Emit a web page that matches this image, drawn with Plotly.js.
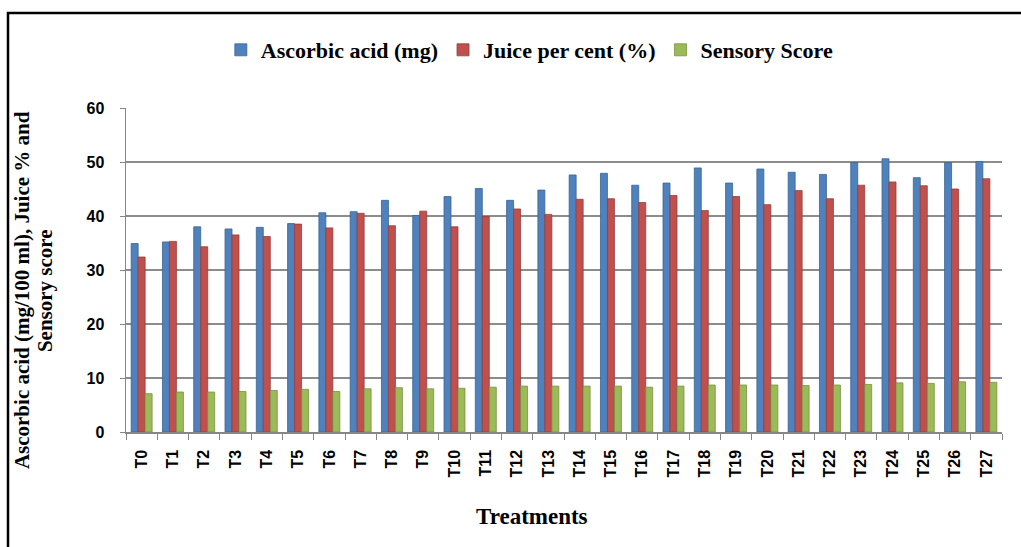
<!DOCTYPE html>
<html>
<head>
<meta charset="utf-8">
<script src="https://cdn.plot.ly/plotly-3.0.1.min.js"></script>
<style>html,body{margin:0;padding:0;background:#fff;}#chart{width:1021px;height:547px;}</style>
</head>
<body>
<div id="chart"></div>
<script>
var treatments = ["T0","T1","T2","T3","T4","T5","T6","T7","T8","T9","T10","T11","T12","T13","T14","T15","T16","T17","T18","T19","T20","T21","T22","T23","T24","T25","T26","T27"];
var ascorbicAcid = [34.9,35.2,38.0,37.6,37.9,38.6,40.6,40.8,42.9,40.1,43.6,45.1,42.9,44.8,47.6,47.9,45.7,46.1,48.9,46.1,48.7,48.1,47.7,49.9,50.6,47.1,49.9,50.1];
var juicePercent = [32.4,35.3,34.3,36.5,36.2,38.5,37.8,40.5,38.2,40.9,38.0,39.9,41.3,40.3,43.1,43.2,42.5,43.8,41.0,43.6,42.1,44.7,43.2,45.7,46.3,45.6,45.0,46.9];
var sensoryScore = [7.1,7.4,7.4,7.5,7.7,7.9,7.5,8.0,8.2,8.0,8.1,8.3,8.5,8.5,8.5,8.5,8.3,8.5,8.7,8.7,8.7,8.6,8.7,8.8,9.1,9.0,9.3,9.2];

var seriesNames = ["Ascorbic acid (mg)", "Juice per cent (%)", "Sensory Score"];
var seriesColors = ["#4F81BD", "#C0504D", "#9BBB59"];
var seriesLines = ["#3A6593", "#963C3A", "#77913F"];
var seriesData = [ascorbicAcid, juicePercent, sensoryScore];
var yTitleLines = ["Ascorbic acid (mg/100 ml), Juice % and", "Sensory score"];
var xTitle = "Treatments";

var traces = seriesData.map(function(vals, i){
  return {
    type: "bar",
    name: "<b>" + seriesNames[i] + "</b>",
    x: treatments,
    y: vals,
    marker: {color: seriesColors[i], line: {color: seriesLines[i], width: 0.8}}
  };
});

var serif = "Liberation Serif, Times New Roman, serif";
var sans = "Liberation Sans, Arial, sans-serif";

var layout = {
  width: 1021,
  height: 547,
  margin: {l: 126, r: 19, t: 108, b: 115},
  paper_bgcolor: "#ffffff",
  plot_bgcolor: "#ffffff",
  barmode: "group",
  bargap: 0.33,
  bargroupgap: 0,
  showlegend: true,
  legend: {
    orientation: "h",
    x: 0.461, xanchor: "center",
    y: 1.179, yanchor: "middle",
    bgcolor: "rgba(0,0,0,0)",
    font: {family: serif, size: 22, color: "#000"},
    itemwidth: 30,
    traceorder: "normal"
  },
  xaxis: {
    type: "category",
    tickangle: -90,
    tickfont: {family: sans, size: 16, color: "#000", weight: "bold"},
    ticklabelstandoff: 10,
    showline: true,
    linecolor: "#868686",
    linewidth: 1.5,
    ticks: "outside",
    tickson: "boundaries",
    ticklen: 6,
    tickcolor: "#868686",
    showgrid: false
  },
  yaxis: {
    range: [0, 60],
    dtick: 10,
    tickfont: {family: sans, size: 16, color: "#000", weight: "bold"},
    ticklabelstandoff: 12,
    showline: true,
    linecolor: "#868686",
    linewidth: 1.5,
    ticks: "outside",
    ticklen: 5,
    tickcolor: "#868686",
    showgrid: true,
    gridcolor: "#8C8C8C",
    gridwidth: 2,
    zeroline: false
  },
  annotations: [
    {xref: "paper", yref: "paper", x: -0.1187, y: 0.438, xanchor: "center", yanchor: "middle",
     textangle: -90, showarrow: false, text: "<b>" + yTitleLines[0] + "</b>",
     font: {family: serif, size: 21, color: "#000"}},
    {xref: "paper", yref: "paper", x: -0.0925, y: 0.438, xanchor: "center", yanchor: "middle",
     textangle: -90, showarrow: false, text: "<b>" + yTitleLines[1] + "</b>",
     font: {family: serif, size: 21, color: "#000"}},
    {xref: "paper", yref: "paper", x: 0.4635, y: -0.262, xanchor: "center", yanchor: "middle",
     showarrow: false, text: "<b>" + xTitle + "</b>",
     font: {family: serif, size: 23, color: "#000"}}
  ],
  shapes: [
    {type: "rect", xref: "paper", yref: "paper", x0: -0.1347, x1: 1.2, y0: -0.36, y1: 1.293,
     line: {color: "#000", width: 2.5}, fillcolor: "rgba(0,0,0,0)", layer: "below"}
  ]
};

Plotly.newPlot("chart", traces, layout, {displayModeBar: false, staticPlot: true});
</script>
</body>
</html>
